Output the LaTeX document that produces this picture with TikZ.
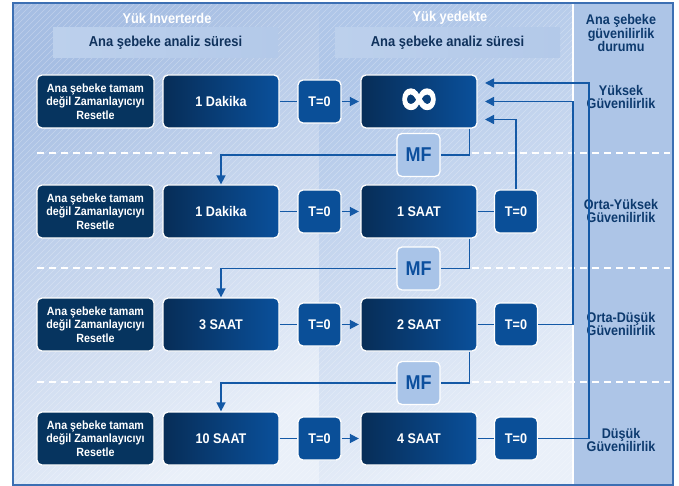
\documentclass[tikz,border=0pt]{standalone}
\usepackage{fontspec}
\setmainfont{Liberation Sans}[FakeStretch=0.9]
\newfontfamily\infont{DejaVu Sans Bold}[FakeBold=2]
\usetikzlibrary{arrows.meta}
\definecolor{navy}{HTML}{06345F}
\definecolor{boxL}{HTML}{072D57}
\definecolor{boxR}{HTML}{0A509B}
\definecolor{tblue}{HTML}{0A4F98}
\definecolor{mfill}{HTML}{A9C4E8}
\definecolor{mftext}{HTML}{0C4F9E}
\definecolor{cblue}{HTML}{1459A6}
\definecolor{lbltext}{HTML}{0D3A6E}
\definecolor{frame}{HTML}{3C6FB3}
\definecolor{bgA}{HTML}{A6BEE3}
\definecolor{bgB}{HTML}{EAF0F9}
\definecolor{bgC}{HTML}{AFC6E8}
\definecolor{rcol}{HTML}{ADC5E7}
\definecolor{bandA}{HTML}{BCD0EC}
\definecolor{bandM}{HTML}{E6EEF9}
\definecolor{bandB}{HTML}{B3C9E9}
\definecolor{bandtext}{HTML}{10325C}
\tikzset{
  box/.style={draw=white, line width=1.3pt, rounded corners=5pt, inner sep=0pt, text=white,
    font=\bfseries\fontsize{14}{15}\selectfont, align=center},
  resetbox/.style={box, fill=navy, minimum width=117pt, minimum height=53pt,
    font=\bfseries\fontsize{11.9}{13.5}\selectfont},
  timebox/.style={box, left color=boxL, right color=boxR, minimum width=116pt, minimum height=53pt},
  tzero/.style={box, fill=tblue, minimum width=43pt, minimum height=43pt,
    font=\bfseries\fontsize{14}{15}\selectfont},
  mfbox/.style={box, fill=mfill, text=mftext, minimum width=43pt, minimum height=43pt,
    font=\bfseries\fontsize{20}{22}\selectfont},
  conn/.style={draw=cblue, line width=1.6pt},
  arr/.style={conn, -{Triangle[length=9pt,width=9pt]}},
  sepline/.style={draw=white, line width=2pt, dash pattern=on 7pt off 5pt},
  lbl/.style={text=lbltext, font=\bfseries\fontsize{14}{13.5}\selectfont, align=center},
  head/.style={text=white, font=\bfseries\fontsize{14.2}{15}\selectfont},
  band/.style={left color=bandA, middle color=bandM, right color=bandB, minimum width=225pt,
    minimum height=30pt, inner sep=0pt, text=bandtext, font=\bfseries\fontsize{14.4}{15}\selectfont},
}
\begin{document}
\begin{tikzpicture}[x=1pt,y=-1pt]
\useasboundingbox (0,0) rectangle (679,486);
% backgrounds
\shade[top color=bgA, bottom color=bgB, shading angle=30] (13,3) rectangle (319,485);
\shade[top color=bgC, bottom color=bgB, shading angle=30] (319,3) rectangle (573,485);
\fill[rcol] (573,3) rectangle (673,485);
\begin{scope}
\clip (13,3) rectangle (573,485);
\foreach \a in {-480,-474,...,680} \draw[white, opacity=0.28, line width=0.5pt] (\a,486) -- (\a+486,0);
\end{scope}
\draw[white, line width=1.5pt] (573,3) -- (573,485);
\draw[frame, line width=1.5pt] (13,3) rectangle (673,485);

% headers
\node[head] (h1) at (167,18) {Yük Inverterde};
\node[head] (h2) at (450,18) {Yük yedekte};
\node[band] (b1) at (165.5,43) {Ana şebeke analiz süresi};
\node[band] (b2) at (447.5,43) {Ana şebeke analiz süresi};
\node[lbl] (h3) at (621,33) {Ana şebeke\\güvenilirlik\\durumu};
\node[lbl] (g1) at (621,97) {Yüksek\\Güvenilirlik};
\node[lbl] (g2) at (621,211) {Orta-Yüksek\\Güvenilirlik};
\node[lbl] (g3) at (621,324) {Orta-Düşük\\Güvenilirlik};
\node[lbl] (g4) at (621,440) {Düşük\\Güvenilirlik};

% separators
\foreach \y in {153.5,267.5,382} {
  \draw[sepline] (37,\y) -- (213,\y);
  \draw[sepline] (472,\y) -- (670,\y);
}

% row 1
\node[resetbox] (r1) at (95.5,101.5) {Ana şebeke tamam\\değil Zamanlayıcıyı\\Resetle};
\node[timebox] (d1) at (221,101.5) {1 Dakika};
\node[tzero] (z1) at (319.5,101.5) {T=0};
\node[timebox] (inf) at (419,101.5) {\infont\fontsize{50}{50}\selectfont ∞};
% row 2
\node[resetbox] (r2) at (95.5,211.5) {Ana şebeke tamam\\değil Zamanlayıcıyı\\Resetle};
\node[timebox] (d2) at (221,211.5) {1 Dakika};
\node[tzero] (z2) at (319.5,211.5) {T=0};
\node[timebox] (s2) at (419,211.5) {1 SAAT};
\node[tzero] (zr2) at (516,211.5) {T=0};
% row 3
\node[resetbox] (r3) at (95.5,324.5) {Ana şebeke tamam\\değil Zamanlayıcıyı\\Resetle};
\node[timebox] (d3) at (221,324.5) {3 SAAT};
\node[tzero] (z3) at (319.5,324.5) {T=0};
\node[timebox] (s3) at (419,324.5) {2 SAAT};
\node[tzero] (zr3) at (516,324.5) {T=0};
% row 4
\node[resetbox] (r4) at (95.5,438.5) {Ana şebeke tamam\\değil Zamanlayıcıyı\\Resetle};
\node[timebox] (d4) at (221,438.5) {10 SAAT};
\node[tzero] (z4) at (319.5,438.5) {T=0};
\node[timebox] (s4) at (419,438.5) {4 SAAT};
\node[tzero] (zr4) at (516,438.5) {T=0};
% MF boxes
\node[mfbox] (mf1) at (418.5,155) {MF};
\node[mfbox] (mf2) at (418.5,268.5) {MF};
\node[mfbox] (mf3) at (418.5,383) {MF};

% arrow targets on the right of infinity box
\coordinate (in1) at (485,83);
\coordinate (in2) at (485,101.5);
\coordinate (in3) at (485,119.5);

% horizontal connectors
\draw[conn] (d1.east) -- (z1.west);
\draw[conn] (d2.east) -- (z2.west);
\draw[conn] (d3.east) -- (z3.west);
\draw[conn] (d4.east) -- (z4.west);
\draw[arr, shorten >=1.5pt] (z1.east) -- (inf.west);
\draw[arr, shorten >=1.5pt] (z2.east) -- (s2.west);
\draw[arr, shorten >=1.5pt] (z3.east) -- (s3.west);
\draw[arr, shorten >=1.5pt] (z4.east) -- (s4.west);
\draw[conn] (s2.east) -- (zr2.west);
\draw[conn] (s3.east) -- (zr3.west);
\draw[conn] (s4.east) -- (zr4.west);
% MF connectors
\draw[conn] ([xshift=-8pt]inf.south east) |- (mf1.east);
\draw[arr] (mf1.west) -| (d2.north);
\draw[conn] ([xshift=-8pt]s2.south east) |- (mf2.east);
\draw[arr] (mf2.west) -| (d3.north);
\draw[conn] ([xshift=-8pt]s3.south east) |- (mf3.east);
\draw[arr] (mf3.west) -| (d4.north);
% feedback arrows
\draw[arr] (zr2.north) |- (in3);
\draw[arr] (zr3.east) -- ++(35,0) |- (in2);
\draw[arr] (zr4.east) -- ++(51,0) |- (in1);
\end{tikzpicture}
\end{document}
